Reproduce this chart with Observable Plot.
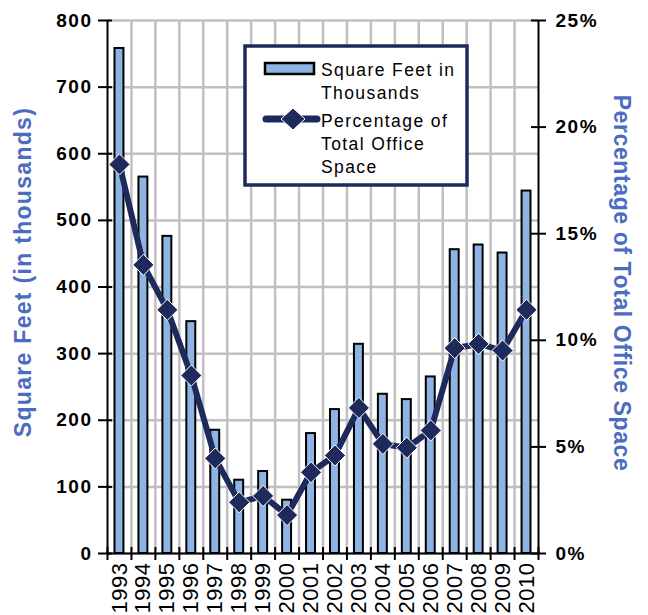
<!DOCTYPE html>
<html><head><meta charset="utf-8">
<script src="https://cdn.jsdelivr.net/npm/d3@7"></script>
<script src="https://cdn.jsdelivr.net/npm/@observablehq/plot@0.6"></script>
<style>
body{margin:0;background:#fff;}
#wrap{position:relative;width:648px;height:615px;overflow:hidden;background:#fff;}
#legend{position:absolute;left:243px;top:44px;}
</style></head><body><div id="wrap"></div>
<script>
const years = [1993,1994,1995,1996,1997,1998,1999,2000,2001,2002,2003,2004,2005,2006,2007,2008,2009,2010];
const sqft  = [758,565,476,348,185,110,123,80,180,216,314,239,231,265,456,463,451,544];
const pct   = [18.25,13.54,11.43,8.35,4.46,2.4,2.7,1.8,3.81,4.6,6.83,5.14,4.96,5.77,9.63,9.83,9.52,11.43];
const sqftTicks = [0,100,200,300,400,500,600,700,800];
const pctTicks = [0,5,10,15,20,25];
const seriesNames = ["Square Feet in Thousands","Percentage of Total Office Space"];
const leftTitle = "Square Feet (in thousands)";
const rightTitle = "Percentage of Total Office Space";

const PCT_TO_SQFT = 800/25;
const data = years.map((year,i)=>({year, sqft: sqft[i], pct: pct[i]}));
const boundaries = [years[0]-0.5, ...years.map(y=>y+0.5)];
const innerBoundaries = boundaries.slice(1,-1);

const BLUE="#8eb4e3", NAVY="#1f2a5c", GRID="#c0c0c0", TITLE="#4b6cc1";
const FONT="'Liberation Sans', Arial, sans-serif";

const chart = Plot.plot({
  width:648, height:615, marginLeft:107, marginRight:110, marginTop:20, marginBottom:62,
  style:{fontFamily:FONT, background:"#fff", overflow:"visible", color:"#000"},
  x:{type:"linear", domain:[boundaries[0], boundaries[boundaries.length-1]], label:null},
  y:{domain:[0,800], label:null},
  marks:[
    Plot.ruleY(sqftTicks,{stroke:GRID,strokeWidth:2.5}),
    Plot.ruleX(innerBoundaries,{stroke:GRID,strokeWidth:2.5}),
    Plot.rectY(data,{x1:d=>d.year-0.5,x2:d=>d.year+0.5,y:"sqft",fill:BLUE,stroke:"#000",strokeWidth:2,insetLeft:7.5,insetRight:7.5}),
    Plot.ruleY([0],{stroke:"#000",strokeWidth:2}),
    Plot.ruleX([boundaries[0], boundaries[boundaries.length-1]],{stroke:"#000",strokeWidth:2}),
    // left axis ticks (crossing) + labels
    Plot.axisY(sqftTicks,{anchor:"left",tickSize:14,dx:5,tickFormat:()=>"",stroke:"#000",strokeWidth:2,label:null}),
    Plot.axisY(sqftTicks,{anchor:"left",tickSize:0,tickPadding:15,fontSize:19,fontWeight:"bold",label:null}),
    // right axis
    Plot.axisY(pctTicks.map(p=>p*PCT_TO_SQFT),{anchor:"right",tickSize:15,dx:-8,tickFormat:()=>"",stroke:"#000",strokeWidth:2,label:null}),
    Plot.axisY(pctTicks.map(p=>p*PCT_TO_SQFT),{anchor:"right",tickSize:0,tickPadding:17,tickFormat:d=>`${Math.round(d/PCT_TO_SQFT)}%`,fontSize:19,fontWeight:"bold",label:null}),
    // bottom axis ticks at boundaries + year labels
    Plot.axisX(boundaries,{anchor:"bottom",tickSize:13,dy:-6,tickFormat:()=>"",stroke:"#000",strokeWidth:2,label:null}),
    Plot.axisX(years,{anchor:"bottom",tickSize:0,tickPadding:9,tickRotate:-90,tickFormat:d=>String(d),fontSize:22,label:null}),
    Plot.line(data,{x:"year",y:d=>d.pct*PCT_TO_SQFT,stroke:NAVY,strokeWidth:6,strokeLinejoin:"round"}),
    Plot.dot(data,{x:"year",y:d=>d.pct*PCT_TO_SQFT,symbol:"diamond2",r:9.5,fill:NAVY,stroke:"#fff",strokeWidth:1})
  ]
});

const svg = d3.select(chart);
svg.selectAll('g[aria-label="y-axis tick label"] text').attr("letter-spacing","1.5px");
svg.selectAll('g[aria-label="x-axis tick label"] text').attr("letter-spacing","0.5px");

svg.append("text").text(leftTitle)
  .attr("transform","translate(31,272) rotate(-90)")
  .attr("text-anchor","middle").attr("font-family",FONT).attr("font-size",23)
  .attr("letter-spacing","1.3px")
  .attr("font-weight","bold").attr("fill",TITLE);
svg.append("text").text(rightTitle)
  .attr("transform","translate(614,283) rotate(90)")
  .attr("text-anchor","middle").attr("font-family",FONT).attr("font-size",23)
  .attr("letter-spacing","0.6px")
  .attr("font-weight","bold").attr("fill",TITLE);

const wrap = document.getElementById("wrap");
wrap.appendChild(chart);

// legend overlay
const lg = d3.select(wrap).append("svg").attr("id","legend").attr("width",227).attr("height",144);
lg.append("rect").attr("x",2).attr("y",2).attr("width",222).attr("height",139)
  .attr("fill","#fff").attr("stroke",NAVY).attr("stroke-width",3.5);
lg.append("rect").attr("x",22).attr("y",19).attr("width",49).attr("height",11)
  .attr("fill",BLUE).attr("stroke","#000").attr("stroke-width",2.5);
lg.append("line").attr("x1",23).attr("x2",74).attr("y1",75).attr("y2",75)
  .attr("stroke",NAVY).attr("stroke-width",7).attr("stroke-linecap","round");
lg.append("path").attr("d","M50,64 L62,75 L50,86 L38,75 Z").attr("fill",NAVY).attr("stroke","#fff").attr("stroke-width",1);
const lines1 = ["Square Feet in","Thousands"];
const lines2 = ["Percentage of","Total Office","Space"];
const addText=(t,y)=>lg.append("text").text(t).attr("x",78).attr("y",y)
  .attr("font-family",FONT).attr("font-size",17.5).attr("letter-spacing","1.4px").attr("fill","#000");
lines1.forEach((t,i)=>addText(t,32+i*23));
lines2.forEach((t,i)=>addText(t,83+i*23));
</script></body></html>
